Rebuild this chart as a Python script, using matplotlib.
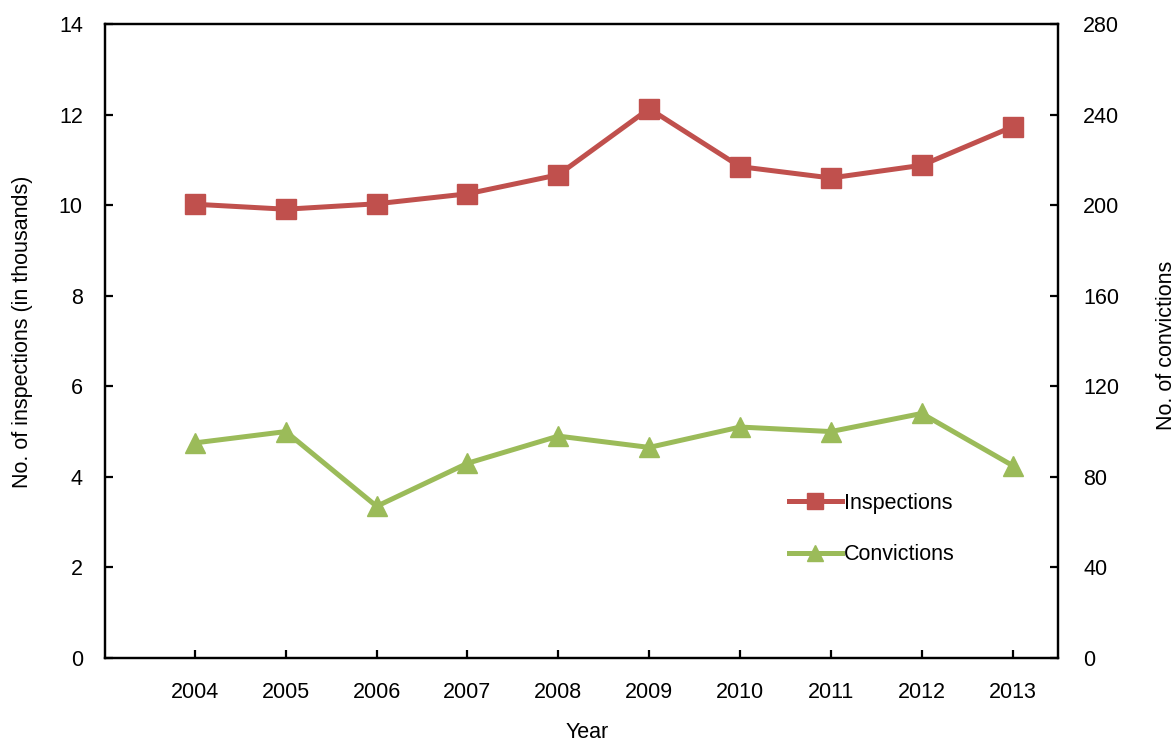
import matplotlib
matplotlib.use('Agg')
import matplotlib.pyplot as plt

plt.rcParams['font.family'] = ['Liberation Sans', 'DejaVu Sans']

years = ['2004', '2005', '2006', '2007', '2008', '2009', '2010', '2011', '2012', '2013']
inspections = [10.02, 9.91, 10.03, 10.25, 10.67, 12.13, 10.85, 10.60, 10.88, 11.73]
convictions = [95, 100, 67, 86, 98, 93, 102, 100, 108, 85]

red = '#C0504D'
green = '#9BBB59'
fs = 15.5
W, H = 1176, 744

fig = plt.figure(figsize=(W/100, H/100), dpi=100)
ax = fig.add_axes([105/W, 1 - 658/H, (1058 - 105)/W, (658 - 24)/H])
ax2 = ax.twinx()

x = list(range(len(years)))
l1, = ax.plot(x, inspections, color=red, lw=3.6, marker='s', ms=14, label='Inspections', zorder=3)
l2, = ax2.plot(x, convictions, color=green, lw=3.6, marker='^', ms=14, label='Convictions', zorder=3)

ax.set_xlim(-0.99, 9.5)
ax.set_ylim(0, 14)
ax.set_yticks(range(0, 15, 2))
ax2.set_ylim(0, 280)
ax2.set_yticks(range(0, 281, 40))
ax.set_xticks(x)
ax.set_xticklabels(years)

for a in (ax, ax2):
    for s in a.spines.values():
        s.set_linewidth(1.6)
        s.set_color('black')
    a.tick_params(direction='in', length=6, width=1.6, labelsize=fs)
ax.tick_params(axis='y', pad=16)
ax2.tick_params(axis='y', pad=18)
ax.tick_params(axis='x', pad=17.5)

fig.text(23/W, 1 - 332/H, 'No. of inspections (in thousands)', rotation=90, fontsize=fs,
         ha='center', va='center')
fig.text(1166/W, 1 - 345/H, 'No. of convictions', rotation=90, fontsize=fs,
         ha='center', va='center')
fig.text(587/W, 1/H, 'Year', fontsize=fs, ha='center', va='bottom')

leg = ax2.legend(handles=[l1, l2], loc='upper left', frameon=False,
                 bbox_to_anchor=(789/W, 1 - 493/H), bbox_transform=fig.transFigure,
                 fontsize=fs, handlelength=2.45, handletextpad=0.12, labelspacing=1.4,
                 borderpad=0, borderaxespad=0, markerscale=0.8)

fig.savefig('out.png', dpi=100)
